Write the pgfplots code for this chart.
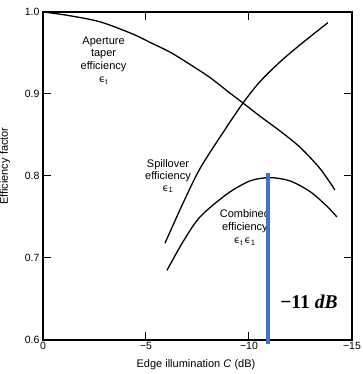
\documentclass[border=0pt]{standalone}
\usepackage{pgfplots}
\pgfplotsset{compat=1.18}
\usepackage{fontspec}
\setmainfont{Liberation Sans}
\newfontfamily\djv{DejaVu Sans}
\newfontfamily\lserif{Liberation Serif}
\definecolor{bluebar}{RGB}{68,114,196}
\newcommand{\eps}[1]{{\djv\fontsize{10}{12}\selectfont ϵ}\textsubscript{#1}}
\begin{document}
\begin{tikzpicture}
\begin{axis}[
  scale only axis, width=309pt, height=328pt,
  xmin=-15, xmax=0, ymin=0.6, ymax=1.0,
  x dir=reverse,
  xtick={0,-5,-10,-15}, xticklabels={0,{\char"2212 5},{\char"2212 10},{\char"2212 15}},
  ytick={0.6,0.7,0.8,0.9,1.0}, yticklabels={0.6,0.7,0.8,0.9,1.0},
  tick align=inside, major tick length=8pt,
  tick style={line width=1pt, black},
  axis line style={line width=1.3pt},
  tick label style={font=\fontsize{10.5}{12}\selectfont},
  xticklabel style={yshift=1pt},
  label style={font=\fontsize{11}{13}\selectfont},
  xlabel={Edge illumination \textit{C} (dB)},
  ylabel={Efficiency factor},
  xlabel style={at={(axis description cs:0.495,-0.076)}, anchor=center},
  ylabel style={at={(axis description cs:-0.123,0.53)}, anchor=center},
  clip=false,
]
\addplot[black, line width=1.3pt, smooth] coordinates {
(0,1.000) (-1.17,0.996) (-2.77,0.988) (-4.37,0.973) (-5.19,0.963) (-6.17,0.951)
(-7.14,0.936) (-8.11,0.920) (-9.08,0.901) (-9.71,0.889) (-10.53,0.873)
(-11.50,0.855) (-12.48,0.835) (-13.45,0.809) (-14.17,0.783)};
\addplot[black, line width=1.3pt, smooth] coordinates {
(-5.92,0.718) (-6.80,0.767) (-7.62,0.809) (-8.74,0.853) (-9.71,0.889)
(-10.53,0.915) (-11.50,0.939) (-12.48,0.960) (-13.83,0.987)};
\addplot[black, line width=1.3pt, smooth] coordinates {
(-6.02,0.685) (-6.80,0.720) (-7.62,0.750) (-8.93,0.778) (-10.05,0.794)
(-11.02,0.798) (-11.99,0.794) (-12.96,0.781) (-13.79,0.763) (-14.27,0.750)};
\node[align=center, font=\fontsize{11}{12.7}\selectfont] at (axis cs:-2.94,0.941) {Aperture\\taper\\efficiency\\\eps{t}};
\node[align=center, font=\fontsize{11}{12}\selectfont] at (axis cs:-6.07,0.800) {Spillover\\efficiency\\\eps{1}};
\node[align=center, font=\fontsize{11}{13.2}\selectfont] at (axis cs:-9.8,0.737) {Combined\\efficiency\\\eps{t}\,\eps{1}};
\addplot[bluebar, line width=4pt] coordinates {(-10.92,0.804) (-10.92,0.595)};
\node[font=\lserif\bfseries\fontsize{19.5}{22}\selectfont] at (axis cs:-12.91,0.646) {−11 \textit{dB}};
\end{axis}
\pgfresetboundingbox
\path[use as bounding box] (current axis.south west) +(-43pt,-34pt) rectangle +(320pt,340pt);
\end{tikzpicture}
\end{document}
